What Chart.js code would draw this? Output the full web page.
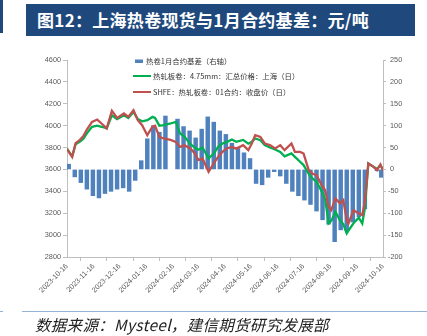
<!DOCTYPE html>
<html><head><meta charset="utf-8">
<script src="https://cdn.jsdelivr.net/npm/chart.js@4.4.1/dist/chart.umd.min.js"></script>
<style>
html,body{margin:0;padding:0;background:#fff;width:427px;height:336px;overflow:hidden;position:relative;font-family:"Noto Sans CJK SC",sans-serif;}
#title{position:absolute;left:26px;top:4px;width:389px;height:32px;background:#1F497D;color:#fff;font-size:17px;font-weight:bold;line-height:32px;padding-left:11px;box-sizing:border-box;white-space:nowrap;letter-spacing:0.3px;}
#lbar{position:absolute;left:0;top:0;width:3px;height:33px;background:#1F497D;}
#fline{position:absolute;left:22px;top:311px;width:405px;height:1px;background:#95B3D7;}
#fline2{position:absolute;left:0;top:311px;width:3px;height:1px;background:#95B3D7;}
#foot{position:absolute;left:35px;top:314px;font-size:15.5px;font-style:italic;color:#222;white-space:nowrap;line-height:20px;letter-spacing:0.3px;}
#wrap{position:absolute;left:0;top:0;width:427px;height:336px;}
</style></head>
<body>
<div id="lbar"></div>
<div id="title">图12：上海热卷现货与1月合约基差：元/吨</div>
<div id="wrap"><canvas id="c" width="427" height="336"></canvas></div>
<div id="fline"></div><div id="fline2"></div>
<div id="foot">数据来源：Mysteel，建信期货研究发展部</div>
<script>
const tickLabels = ['2023-10-16','2023-11-16','2023-12-16','2024-01-16','2024-02-16','2024-03-16','2024-04-16','2024-05-16','2024-06-16','2024-07-16','2024-08-16','2024-09-16','2024-10-16'];

const lineDates = ['2023-10-16','2023-10-22','2023-10-26','2023-10-31','2023-11-04','2023-11-08','2023-11-14','2023-11-20','2023-11-25','2023-12-01','2023-12-07','2023-12-13','2023-12-21','2023-12-26','2024-01-01','2024-01-06','2024-01-11','2024-01-17','2024-01-23','2024-01-26','2024-01-31','2024-02-05','2024-02-13','2024-02-19','2024-02-24','2024-02-29','2024-03-07','2024-03-12','2024-03-16','2024-03-21','2024-03-28','2024-04-03','2024-04-08','2024-04-13','2024-04-18','2024-04-24','2024-04-29','2024-05-07','2024-05-13','2024-05-17','2024-05-21','2024-05-27','2024-06-01','2024-06-07','2024-06-13','2024-06-19','2024-06-24','2024-07-02','2024-07-06','2024-07-12','2024-07-16','2024-07-22','2024-07-26','2024-07-31','2024-08-06','2024-08-10','2024-08-14','2024-08-17','2024-08-22','2024-08-27','2024-08-31','2024-09-04','2024-09-06','2024-09-12','2024-09-18','2024-09-22','2024-09-25','2024-09-29','2024-10-05','2024-10-09','2024-10-13','2024-10-16'];

const spotShanghai = [3790,3720,3830,3855,3880,3930,3990,4000,3990,3975,4095,4060,4095,4070,4125,4060,4040,4050,4080,4070,4000,4004,4020,4034,3928,3900,3830,3800,3780,3800,3700,3745,3806,3837,3850,3873,3852,3870,3835,3852,3883,3867,3822,3800,3782,3760,3720,3746,3715,3670,3640,3560,3520,3487,3400,3330,3107,3130,3213,3137,3100,3016,3040,3110,3160,3107,3244,3655,3624,3605,3640,3600];

const shfe01 = [3785,3715,3840,3870,3905,3965,4035,4056,4020,3975,4135,4070,4111,4080,4141,4050,4005,3913,3990,4000,3897,3883,3870,3852,3806,3820,3792,3746,3685,3700,3578,3655,3715,3760,3792,3806,3790,3822,3776,3837,3913,3897,3837,3822,3792,3822,3776,3837,3760,3760,3745,3594,3563,3548,3457,3411,3259,3228,3335,3290,3320,3137,3107,3228,3198,3183,3305,3655,3624,3594,3645,3590];

const basisDates = ['2023-10-18','2023-10-25','2023-11-01','2023-11-08','2023-11-15','2023-11-22','2023-11-29','2023-12-06','2023-12-13','2023-12-20','2023-12-27','2024-01-03','2024-01-10','2024-01-17','2024-01-24','2024-01-31','2024-02-07','2024-02-14','2024-02-21','2024-02-28','2024-03-06','2024-03-13','2024-03-20','2024-03-27','2024-04-03','2024-04-10','2024-04-17','2024-04-24','2024-05-01','2024-05-08','2024-05-15','2024-05-22','2024-05-29','2024-06-05','2024-06-12','2024-06-19','2024-06-26','2024-07-03','2024-07-10','2024-07-17','2024-07-24','2024-07-31','2024-08-07','2024-08-14','2024-08-21','2024-08-28','2024-09-04','2024-09-11','2024-09-18','2024-09-25','2024-10-02','2024-10-09','2024-10-14'];

const basisJan = [12,-17,-30,-45,-60,-65,-55,-50,-45,-42,-50,-25,20,70,100,85,122,null,115,98,88,72,92,120,108,88,80,60,48,38,25,-32,-35,-18,-5,-15,-32,-50,-60,-70,-80,-95,-115,-125,-165,-138,-140,-120,-108,-90,null,-3,-18];

const seriesNames = ['热卷1月合约基差（右轴）','热轧板卷：4.75mm：汇总价格：上海（日）','SHFE：热轧板卷：01合约：收盘价（日）'];

const T0 = Date.UTC(2023,9,16);
function dayOf(s){const p=s.split('-').map(Number);return Math.round((Date.UTC(p[0],p[1]-1,p[2])-T0)/86400000);}
const tickDays = tickLabels.map(dayOf);

const FONT = '"Liberation Sans", Arial, sans-serif';
const TXT = '#595959';
const AX = '#BFBFBF';

const legendPlugin = {
  id:'customLegend',
  afterDraw(chart){
    const ctx = chart.ctx;
    ctx.save();
    ctx.font = '7.4px "Noto Sans CJK SC", sans-serif';
    ctx.textBaseline = 'middle';
    ctx.textAlign = 'left';
    ctx.fillStyle = '#4F81BD';
    ctx.fillRect(135, 59.5, 8, 3.5);
    ctx.fillStyle = '#333';
    ctx.fillText(chart.data.datasets[0].label, 146, 61.5);
    ctx.lineWidth = 2;
    ctx.strokeStyle = '#00B050';
    ctx.beginPath(); ctx.moveTo(133,76); ctx.lineTo(151,76); ctx.stroke();
    ctx.fillText(chart.data.datasets[1].label, 153, 76.5);
    ctx.strokeStyle = '#C0504D';
    ctx.beginPath(); ctx.moveTo(133,92); ctx.lineTo(151,92); ctx.stroke();
    ctx.fillText(chart.data.datasets[2].label, 153, 92.5);
    ctx.restore();
  }
};

new Chart(document.getElementById('c'), {
  type:'line',
  data:{
    datasets:[
      {type:'bar', label:seriesNames[0], data:basisDates.map((d,i)=>({x:dayOf(d), y:basisJan[i]})), yAxisID:'y2', backgroundColor:'#4F81BD', barThickness:3.8, order:3},
      {label:seriesNames[1], data:lineDates.map((d,i)=>({x:dayOf(d), y:spotShanghai[i]})), yAxisID:'y', borderColor:'#00B050', borderWidth:2.3, pointRadius:0, tension:0, fill:false, order:2},
      {label:seriesNames[2], data:lineDates.map((d,i)=>({x:dayOf(d), y:shfe01[i]})), yAxisID:'y', borderColor:'#C0504D', borderWidth:2.3, pointRadius:0, tension:0, fill:false, order:1}
    ]
  },
  options:{
    responsive:false, animation:false, devicePixelRatio:1,
    layout:{padding:{left:0,right:0,top:60,bottom:30}},
    plugins:{legend:{display:false}, tooltip:{enabled:false}, title:{display:false}},
    scales:{
      x:{type:'linear', position:'bottom', min:0, max:366, offset:false,
        afterBuildTicks(s){ s.ticks = tickDays.map(v=>({value:v})); },
        afterFit(s){ s.height = 49; },
        grid:{display:true, drawOnChartArea:false, drawTicks:true, tickLength:4, color:AX},
        border:{display:true, color:AX},
        ticks:{autoSkip:false, minRotation:45, maxRotation:45, padding:1, color:TXT, font:{family:FONT, size:7.3},
          callback(v){ const i = tickDays.indexOf(v); return i>=0 ? tickLabels[i] : ''; }}
      },
      y:{type:'linear', position:'left', min:2800, max:4600,
        afterFit(s){ s.width = 67; },
        grid:{display:true, drawOnChartArea:false, tickLength:4, color:AX},
        border:{display:true, color:AX},
        ticks:{stepSize:200, padding:2, color:TXT, font:{family:FONT, size:7.3},
          callback(v){ return String(v); }}
      },
      y2:{type:'linear', position:'right', min:-200, max:250,
        afterFit(s){ s.width = 44; },
        grid:{display:true, drawOnChartArea:false, tickLength:3, color:AX},
        border:{display:true, color:AX},
        ticks:{stepSize:50, padding:2, color:TXT, font:{family:FONT, size:7.3},
          callback(v){ return v>=0 ? ' '+v : String(v); }}
      }
    }
  },
  plugins:[legendPlugin]
});
</script>
</body></html>
